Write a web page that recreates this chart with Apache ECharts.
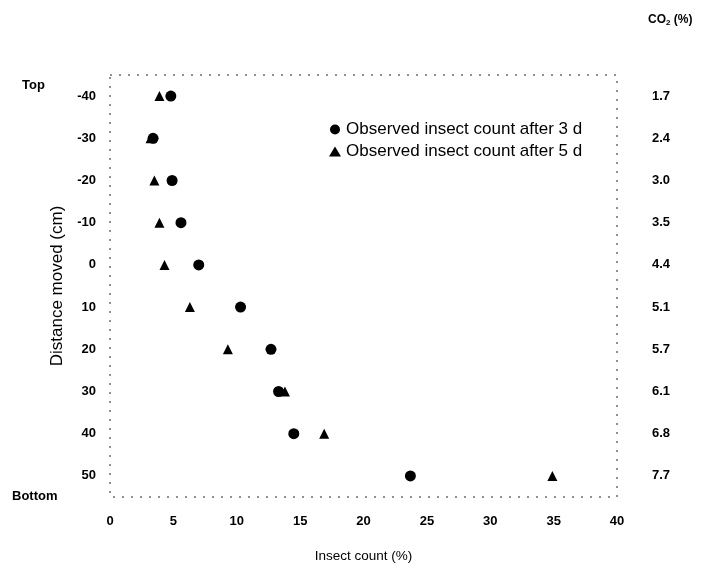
<!DOCTYPE html>
<html><head><meta charset="utf-8">
<script src="https://cdn.jsdelivr.net/npm/echarts@6/dist/echarts.min.js"></script>
<style>html,body{margin:0;padding:0;background:#fff}#c{width:701px;height:573px}</style>
</head><body><div id="c"></div>
<script>
const distances = ['-40','-30','-20','-10','0','10','20','30','40','50'];
const co2Labels = ['1.7','2.4','3.0','3.5','4.4','5.1','5.7','6.1','6.8','7.7'];
const count3d = [4.8, 3.4, 4.9, 5.6, 7.0, 10.3, 12.7, 13.3, 14.5, 23.7];
const count5d = [3.9, 3.2, 3.5, 3.9, 4.3, 6.3, 9.3, 13.8, 16.9, 34.9];
const xTicks = [0, 5, 10, 15, 20, 25, 30, 35, 40];

const font = 'Liberation Sans, Arial, sans-serif';
const chart = echarts.init(document.getElementById('c'));
chart.setOption({
  backgroundColor: '#fff',
  animation: false,
  textStyle: {fontFamily: font, color: '#000'},
  grid: {left: 110, right: 84, top: 75, bottom: 76, show: true, borderColor: '#222', borderWidth: 1, borderType: [2, 7]},
  legend: {
    orient: 'vertical', left: 324, top: 116, itemGap: 5, itemWidth: 12, itemHeight: 10,
    textStyle: {fontFamily: font, fontSize: 17, color: '#000'},
    data: ['Observed insect count after 3 d', 'Observed insect count after 5 d']
  },
  xAxis: {
    type: 'value', min: xTicks[0], max: xTicks[xTicks.length - 1], interval: 5,
    name: 'Insect count (%)', nameLocation: 'middle', nameGap: 52,
    nameTextStyle: {fontFamily: font, fontSize: 13.5, color: '#000'},
    axisLine: {show: false}, axisTick: {show: false}, splitLine: {show: false},
    axisLabel: {margin: 18, fontSize: 13, fontWeight: 'bold', color: '#000', fontFamily: font}
  },
  yAxis: [{
    type: 'category', data: distances, inverse: true, boundaryGap: true,
    name: 'Distance moved (cm)', nameLocation: 'middle', nameGap: 42, nameRotate: 90,
    nameTextStyle: {fontFamily: font, fontSize: 17, color: '#000'},
    axisLine: {show: false}, axisTick: {show: false}, splitLine: {show: false},
    axisLabel: {margin: 14, fontSize: 13, fontWeight: 'bold', color: '#000', fontFamily: font}
  }, {
    type: 'category', data: co2Labels, inverse: true, boundaryGap: true, position: 'right',
    axisLine: {show: false}, axisTick: {show: false}, splitLine: {show: false},
    axisLabel: {margin: 35, fontSize: 13, fontWeight: 'bold', color: '#000', fontFamily: font}
  }],
  series: [{
    name: 'Observed insect count after 3 d', type: 'scatter', symbol: 'circle', symbolSize: 11,
    itemStyle: {color: '#000', opacity: 1},
    data: count3d.map((v, i) => [v, distances[i]])
  }, {
    name: 'Observed insect count after 5 d', type: 'scatter', symbol: 'triangle', symbolSize: 10,
    itemStyle: {color: '#000', opacity: 1},
    data: count5d.map((v, i) => [v, distances[i]])
  }],
  graphic: [
    {type: 'text', left: 22, top: 79, style: {text: 'Top', font: 'bold 13px ' + font, fill: '#000'}},
    {type: 'text', left: 12, top: 490, style: {text: 'Bottom', font: 'bold 13px ' + font, fill: '#000'}},
    {type: 'text', left: 648, top: 14, style: {
      text: '{a|CO}{s|2}{a| (%)}',
      rich: {a: {fontFamily: font, fontSize: 12, fontWeight: 'bold', fill: '#000'},
             s: {fontFamily: font, fontSize: 8, fontWeight: 'bold', fill: '#000', verticalAlign: 'bottom', padding: [6, 0, 0, 0]}}
    }}
  ]
});
</script></body></html>
